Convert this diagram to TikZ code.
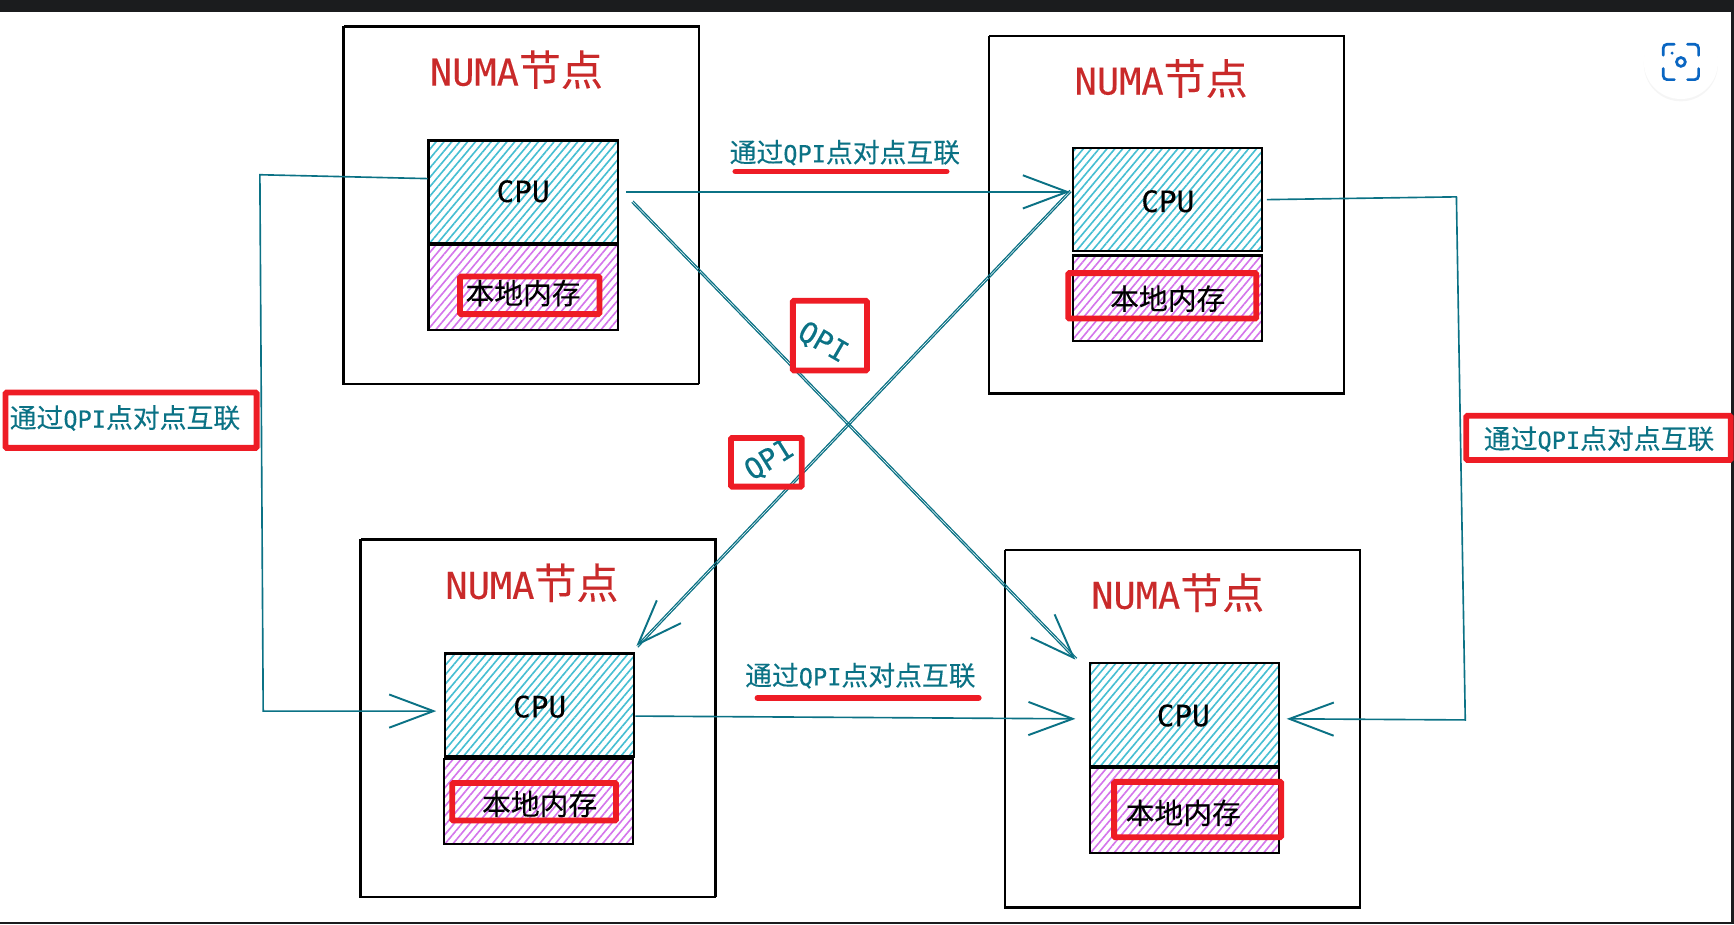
\documentclass[tikz,border=0pt]{standalone}
\usepackage{fontspec}
\setmainfont[Scale=0.88,FakeBold=0.25]{DejaVu Sans Mono}
\newfontfamily\cjk[FakeBold=0.2]{Noto Sans CJK SC}
\usetikzlibrary{arrows.meta,patterns.meta,shadows}
\definecolor{numared}{RGB}{201,42,42}
\definecolor{framered}{RGB}{238,28,37}
\definecolor{linkteal}{RGB}{11,114,133}
\definecolor{cpucyan}{RGB}{70,190,210}
\definecolor{memviolet}{RGB}{204,93,232}
\definecolor{barblack}{RGB}{27,28,30}
\definecolor{iconblue}{RGB}{10,102,194}
\tikzset{
    nodebox/.style={draw=black, line width=0.4pt, minimum width=3.21cm, minimum height=3.23cm,
        postaction={draw, line width=0.25pt, transform canvas={xshift=0.3pt,yshift=0.3pt}}},
    cpubox/.style={draw=black, line width=0.55pt, minimum width=1.71cm, minimum height=0.93cm,
        pattern={Lines[angle=50,distance=1.55pt,line width=0.42pt]}, pattern color=cpucyan},
    membox/.style={draw=black, line width=0.55pt, minimum width=1.71cm, minimum height=0.77cm,
        pattern={Lines[angle=50,distance=1.55pt,line width=0.42pt]}, pattern color=memviolet!85},
    redframe/.style={draw=framered, line width=1.5pt, rounded corners=0.3pt, inner sep=0pt},
    numatext/.style={text=numared, font=\fontsize{10.8pt}{12pt}\selectfont},
    cputext/.style={text=black, font=\fontsize{8.6pt}{10pt}\selectfont},
    memtext/.style={text=black, font=\fontsize{7.4pt}{9pt}\selectfont},
    linktext/.style={text=linkteal, font=\fontsize{6.9pt}{8pt}\selectfont},
    qpitext/.style={text=linkteal, font=\fontsize{8.4pt}{9pt}\selectfont},
    link/.style={draw=linkteal, line width=0.42pt, -{Straight Barb[length=4mm,width=3mm,line width=0.5pt]}},
    crosslink/.style={link, line width=0.3pt,
        postaction={draw, -, line width=0.3pt, transform canvas={xshift=0.36pt,yshift=#1}}},
    redline/.style={draw=framered, line width=1.5pt, line cap=round}
}
\begin{document}
\begin{tikzpicture}[x=0.01cm, y=-0.01cm]
    \useasboundingbox (0,0) rectangle (1568,835.6);
    % Rahmen
    \fill[barblack] (0,0) rectangle (1568,10.5);
    \fill[barblack] (1565,0) rectangle (1568,835.6);
    \fill[barblack] (0,833.8) rectangle (1568,835.6);

    % Knoten oben links
    \node[nodebox] (numaA) at (471,186) {};
    \node[cpubox] (cpuA) at (473,173.5) {};
    \node[membox] (memA) at (473,260) {};
    \node[numatext] (titleA) at (467,63) {NUMA{\cjk 节点}};
    \node[cputext] (cpuTextA) at (473,173) {CPU};
    \node[memtext] (memTextA) at (473,265) {\cjk 本地内存};
    \node[redframe, minimum width=1.26cm, minimum height=0.34cm] (frameA) at (479,267) {};

    % Knoten oben rechts
    \node[nodebox] (numaB) at (1054.5,194.5) {};
    \node[cpubox] (cpuB) at (1056,180.5) {};
    \node[membox] (memB) at (1056,269.5) {};
    \node[numatext] (titleB) at (1050,71) {NUMA{\cjk 节点}};
    \node[cputext] (cpuTextB) at (1056,182) {CPU};
    \node[memtext] (memTextB) at (1056,270) {\cjk 本地内存};
    \node[redframe, minimum width=1.70cm, minimum height=0.41cm] (frameB) at (1051,267.5) {};

    % Knoten unten links
    \node[nodebox] (numaC) at (486,650) {};
    \node[cpubox] (cpuC) at (488,637.5) {};
    \node[membox] (memC) at (487,724.5) {};
    \node[numatext] (titleC) at (481,527) {NUMA{\cjk 节点}};
    \node[cputext] (cpuTextC) at (488,639) {CPU};
    \node[memtext] (memTextC) at (488,727) {\cjk 本地内存};
    \node[redframe, minimum width=1.48cm, minimum height=0.34cm] (frameC) at (483,725) {};

    % Knoten unten rechts
    \node[nodebox] (numaD) at (1069,659.5) {};
    \node[cpubox] (cpuD) at (1071,646) {};
    \node[membox] (memD) at (1071,733) {};
    \node[numatext] (titleD) at (1065,536) {NUMA{\cjk 节点}};
    \node[cputext] (cpuTextD) at (1070,647) {CPU};
    \node[memtext] (memTextD) at (1070,735) {\cjk 本地内存};
    \node[redframe, minimum width=1.51cm, minimum height=0.50cm] (frameD) at (1083,732) {};

    % Verbindungen
    \coordinate (bendLa) at (235,158);
    \coordinate (bendLb) at (238,643);
    \coordinate (bendRa) at (1317,178);
    \coordinate (bendRb) at (1325,651);
    \draw[link] ([yshift=0.12cm]cpuA.west) -- (bendLa) -- (bendLb) -- ([xshift=-0.07cm,yshift=-0.055cm]cpuC.west);
    \draw[link] ([xshift=0.03cm]cpuB.east) -- (bendRa) -- (bendRb) -- ([xshift=0.06cm,yshift=-0.04cm]cpuD.east);
    \draw[link] ([xshift=0.07cm]cpuA.east) -- ([xshift=-0.02cm]cpuA.east -| cpuB.west);
    \draw[link] ([yshift=-0.10cm]cpuC.east) -- ([xshift=-0.12cm,yshift=-0.04cm]cpuD.west);
    \draw[crosslink=0.36pt] ([xshift=0.12cm,yshift=-0.095cm]cpuA.east) -- ([xshift=-0.12cm,yshift=0.02cm]cpuD.north west);
    \draw[crosslink=-0.36pt] ([xshift=-0.02cm,yshift=0.085cm]cpuB.west) -- ([xshift=0.01cm,yshift=0.06cm]cpuC.north east);

    % Beschriftungen
    \node[linktext] (linkTop) at (764,138) {{\cjk 通过}QPI{\cjk 点对点互联}};
    \node[linktext] (linkBottom) at (778,611) {{\cjk 通过}QPI{\cjk 点对点互联}};
    \node[linktext] (linkLeft) at (113,378) {{\cjk 通过}QPI{\cjk 点对点互联}};
    \node[linktext] (linkRight) at (1446,397) {{\cjk 通过}QPI{\cjk 点对点互联}};
    \node[qpitext, rotate=-30] (qpiOne) at (744,310) {QPI};
    \node[qpitext, rotate=32] (qpiTwo) at (696,416) {QPI};
    \coordinate (lineTopA) at (665,155);
    \coordinate (lineTopB) at (856,155);
    \coordinate (lineBottomA) at (685,631);
    \coordinate (lineBottomB) at (885,631);
    \draw[redline] (lineTopA) -- (lineTopB);
    \draw[redline] (lineBottomA) -- (lineBottomB);
    \node[redframe, minimum width=2.27cm, minimum height=0.50cm] (frameLeft) at (118.5,380) {};
    \node[redframe, minimum width=2.39cm, minimum height=0.40cm] (frameRight) at (1445.5,396) {};
    \node[redframe, minimum width=0.67cm, minimum height=0.63cm] (frameOne) at (750.5,303.5) {};
    \node[redframe, minimum width=0.64cm, minimum height=0.44cm] (frameTwo) at (693,418) {};

    % Symbol oben rechts
    \node[circle, fill=white, minimum size=0.67cm, inner sep=0pt, drop shadow={opacity=0.08, shadow xshift=0pt, shadow yshift=-0.6pt}] (lensBtn) at (1520,56) {};
    \draw[iconblue, line width=0.7pt, line cap=round, rounded corners=1pt] (1504,50) -- (1504,40) -- (1514,40);
    \draw[iconblue, line width=0.7pt, line cap=round, rounded corners=1pt] (1526,40) -- (1536,40) -- (1536,50);
    \draw[iconblue, line width=0.7pt, line cap=round, rounded corners=1pt] (1536,62) -- (1536,72) -- (1526,72);
    \draw[iconblue, line width=0.7pt, line cap=round, rounded corners=1pt] (1514,72) -- (1504,72) -- (1504,62);
    \draw[iconblue, line width=0.7pt] (lensBtn.center) circle[radius=4];
    \fill[iconblue] (1512,48) circle[radius=1.5];
\end{tikzpicture}
\end{document}
